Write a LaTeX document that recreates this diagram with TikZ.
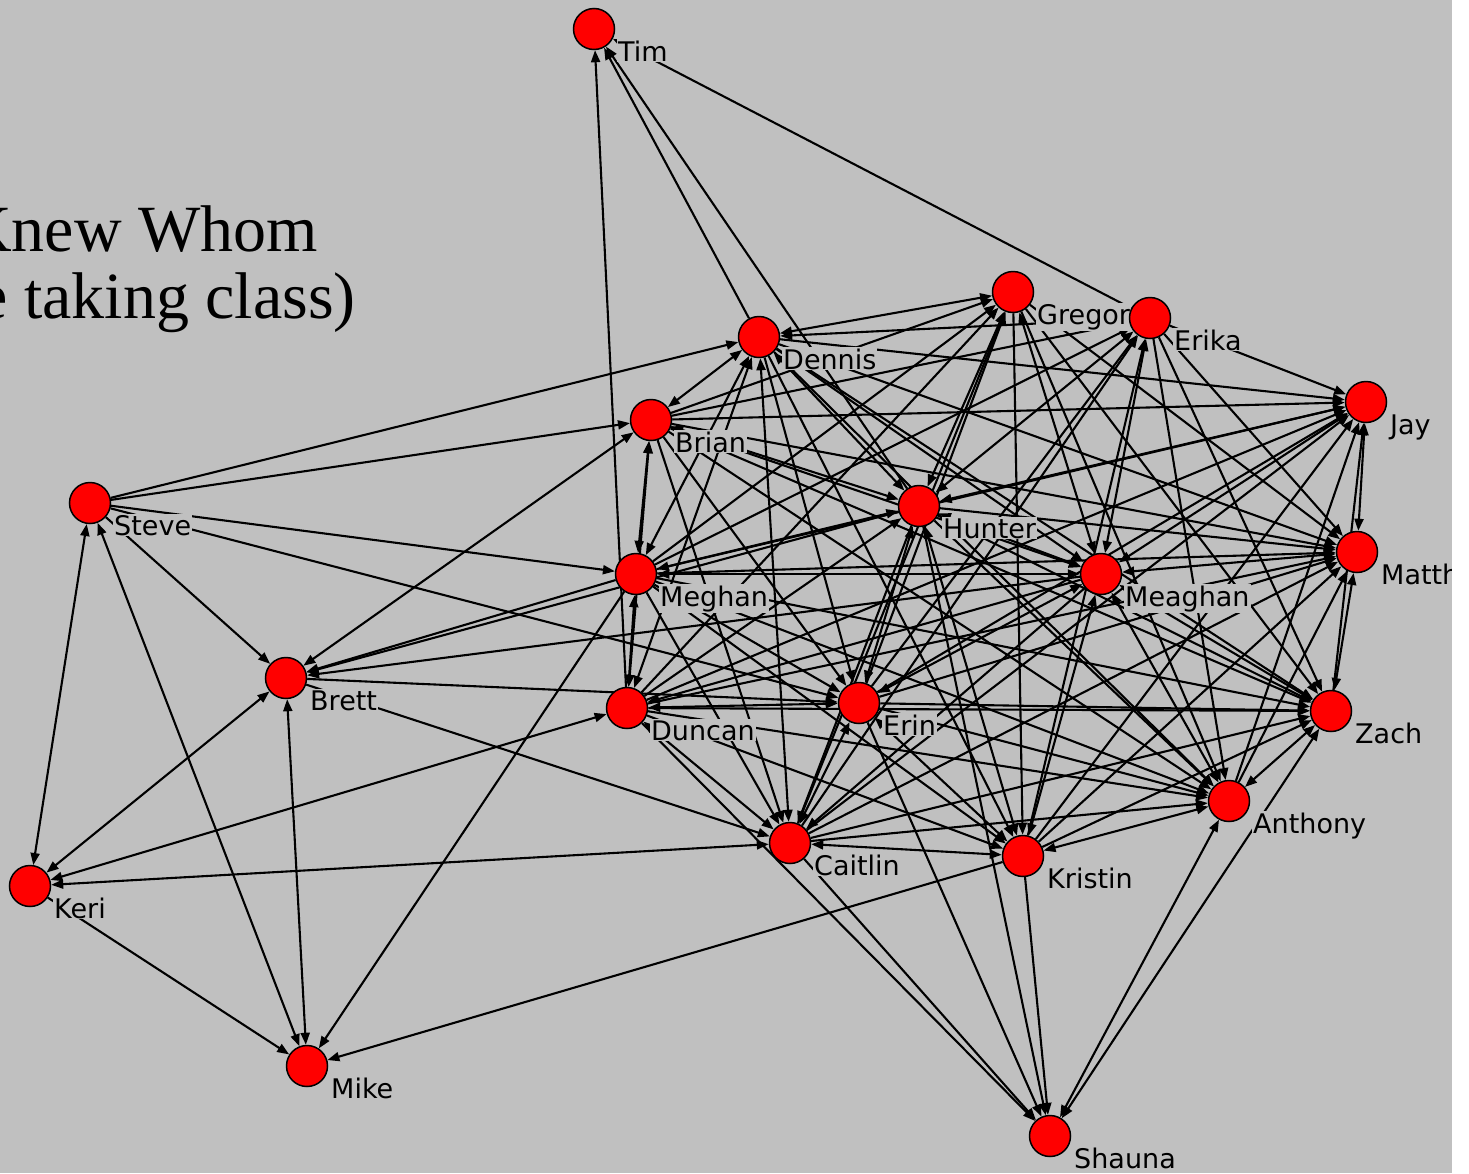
\documentclass[tikz,border=0pt]{standalone}
\usepackage{fontspec}
\setmainfont{Liberation Serif}
\newfontfamily\labelfont{DejaVu Sans}
\usetikzlibrary{arrows.meta}
\pgfdeclarelayer{edges}
\pgfdeclarelayer{labels}
\pgfsetlayers{edges,labels,main}
\definecolor{canvas}{RGB}{192,192,192}
\definecolor{nodered}{RGB}{255,0,0}
\begin{document}
\begin{tikzpicture}[x=1pt,y=-1pt,
  person/.style={circle,draw=black,fill=nodered,line width=1.5pt,minimum size=41pt,inner sep=0pt},
  tag/.style={anchor=base west,fill=canvas,inner sep=1pt,font=\labelfont\fontsize{27}{27}\selectfont},
  tie/.style={line width=2.1pt,-{Triangle[length=12pt,width=9pt]}},
  mutual/.style={line width=2.1pt,{Triangle[length=12pt,width=9pt]}-{Triangle[length=12pt,width=9pt]}},
  heading/.style={anchor=base east,inner sep=0pt,font=\fontsize{66}{66}\selectfont}]
\useasboundingbox (0,0) rectangle (1469,1173);

% people
\node[person] (tim)     at (594,29)   {};
\node[person] (gregor)  at (1013,292) {};
\node[person] (erika)   at (1150,318) {};
\node[person] (dennis)  at (759,337)  {};
\node[person] (jay)     at (1366,402) {};
\node[person] (brian)   at (651,420)  {};
\node[person] (steve)   at (90,503)   {};
\node[person] (hunter)  at (919,506)  {};
\node[person] (meghan)  at (636,574)  {};
\node[person] (meaghan) at (1101,574) {};
\node[person] (matth)   at (1357,552) {};
\node[person] (brett)   at (286,678)  {};
\node[person] (duncan)  at (627,708)  {};
\node[person] (erin)    at (859,703)  {};
\node[person] (zach)    at (1331,711) {};
\node[person] (anthony) at (1229,801) {};
\node[person] (caitlin) at (790,843)  {};
\node[person] (kristin) at (1023,856) {};
\node[person] (keri)    at (30,886)   {};
\node[person] (mike)    at (307,1066) {};
\node[person] (shauna)  at (1050,1136) {};

\begin{pgfonlayer}{edges}
  \fill[canvas] (0,0) rectangle (1452,1173);
  \node[heading] (title1) at (318,251) {Knew Whom};
  \node[heading] (title2) at (356,318) {e taking class)};

  % one-way ties
  \foreach \a/\b in {duncan/tim, dennis/tim, hunter/tim, erika/tim,
    steve/brett, steve/dennis, steve/brian, steve/meghan, steve/erin,
    keri/mike, meghan/brett, hunter/brett, meaghan/brett, brett/erin, brett/caitlin,
    meghan/mike, kristin/mike,
    caitlin/shauna, duncan/shauna, erin/shauna, hunter/shauna, kristin/shauna,
    dennis/jay, dennis/matth, dennis/meaghan, dennis/zach, dennis/anthony,
    dennis/erin, dennis/kristin, erika/dennis,
    brian/gregor, brian/jay, brian/erika, brian/meaghan, brian/matth, brian/erin,
    brian/caitlin, brian/zach, brian/anthony,
    gregor/kristin, gregor/matth, gregor/zach, gregor/anthony, meghan/gregor,
    duncan/gregor, erin/gregor, caitlin/gregor,
    erika/jay, erika/matth, erika/zach, erika/anthony, meghan/erika, erin/erika,
    kristin/erika, caitlin/erika,
    meghan/jay, duncan/jay, erin/jay, zach/jay, anthony/jay, kristin/jay, caitlin/jay,
    hunter/matth, hunter/zach, hunter/anthony, hunter/caitlin, duncan/hunter,
    meghan/matth, meghan/erin, meghan/caitlin, meghan/kristin, meghan/zach, meghan/anthony,
    meaghan/caitlin, meaghan/duncan,
    anthony/matth, duncan/matth, erin/matth, kristin/matth, caitlin/matth,
    duncan/zach, duncan/anthony, duncan/kristin, erin/zach, erin/anthony,
    kristin/zach, caitlin/zach, caitlin/anthony}
    \draw[tie] (\a) -- (\b);

  % reciprocated ties
  \foreach \a/\b in {steve/keri, steve/mike, keri/brett, keri/duncan, keri/caitlin,
    brett/brian, brett/mike, anthony/shauna, zach/shauna,
    dennis/gregor, dennis/brian, dennis/hunter, dennis/meghan, dennis/duncan, dennis/caitlin,
    brian/meghan, brian/hunter, brian/duncan,
    gregor/hunter, gregor/meaghan, erika/hunter, erika/meaghan,
    jay/matth, jay/hunter, jay/meaghan,
    hunter/meghan, hunter/meaghan, hunter/erin, hunter/kristin,
    meghan/meaghan, meghan/duncan,
    meaghan/matth, meaghan/zach, meaghan/anthony, meaghan/kristin, meaghan/erin,
    matth/zach, duncan/erin, duncan/caitlin, erin/caitlin, erin/kristin,
    zach/anthony, anthony/kristin, caitlin/kristin}
    \draw[mutual] (\a) -- (\b);
\end{pgfonlayer}

\begin{pgfonlayer}{labels}
  \node[tag] (tim-l)     at (617,61)    {Tim};
  \node[tag] (gregor-l)  at (1036,324)  {Gregor};
  \node[tag] (erika-l)   at (1173,350)  {Erika};
  \node[tag] (dennis-l)  at (782,369)   {Dennis};
  \node[tag] (jay-l)     at (1389,434)  {Jay};
  \node[tag] (brian-l)   at (674,452)   {Brian};
  \node[tag] (steve-l)   at (113,535)   {Steve};
  \node[tag] (hunter-l)  at (942,538)   {Hunter};
  \node[tag] (meghan-l)  at (659,606)   {Meghan};
  \node[tag] (meaghan-l) at (1124,606)  {Meaghan};
  \node[tag] (matth-l)   at (1380,584)  {Matth};
  \node[tag] (brett-l)   at (309,710)   {Brett};
  \node[tag] (duncan-l)  at (650,740)   {Duncan};
  \node[tag] (erin-l)    at (882,735)   {Erin};
  \node[tag] (zach-l)    at (1354,743)  {Zach};
  \node[tag] (anthony-l) at (1252,833)  {Anthony};
  \node[tag] (caitlin-l) at (813,875)   {Caitlin};
  \node[tag] (kristin-l) at (1046,888)  {Kristin};
  \node[tag] (keri-l)    at (53,918)    {Keri};
  \node[tag] (mike-l)    at (330,1098)  {Mike};
  \node[tag] (shauna-l)  at (1073,1168) {Shauna};
\end{pgfonlayer}

% blank strip along the right edge
\fill[white] (1452,0) rectangle (1469,1173);
\end{tikzpicture}
\end{document}
